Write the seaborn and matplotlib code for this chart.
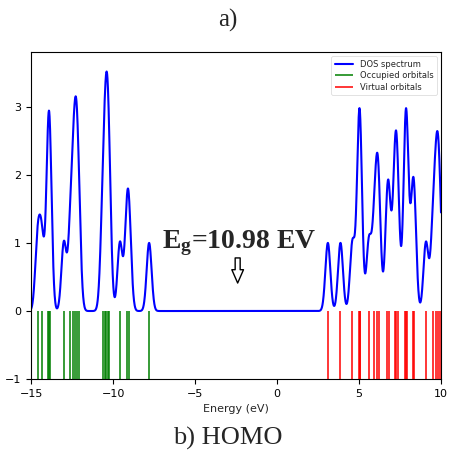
import numpy as np
import pandas as pd
import matplotlib
matplotlib.use("Agg")
import matplotlib.pyplot as plt
import seaborn as sns

# Orbital energies (eV)
occupied = [-14.6, -14.35, -13.95, -13.9, -13.87, -13.0, -12.6, -12.42,
            -12.3, -12.22, -12.1, -10.64, -10.5, -10.4, -10.32, -10.24,
            -9.58, -9.16, -9.02, -7.8]
virtual = [3.1, 3.87, 4.6, 5.0, 5.03, 5.06, 5.6, 5.93, 6.12, 6.2, 6.72,
           6.82, 7.17, 7.25, 7.36, 7.83, 7.87, 7.9, 8.28, 8.36, 9.08, 9.5,
           9.7, 9.8, 9.93]
sigma = 0.15
x_ticks = [-15, -10, -5, 0, 5, 10]
y_ticks = [-1, 0, 1, 2, 3]
gap_label = r"$\mathbf{E_g}$=10.98 EV"

sns.set_theme(style="ticks")
plt.rcParams["font.family"] = ["DejaVu Sans"]
plt.rcParams["mathtext.fontset"] = "custom"
plt.rcParams["mathtext.bf"] = "Liberation Serif:bold"
plt.rcParams["mathtext.rm"] = "Liberation Serif"

energies = np.linspace(-15, 10, 2501)
levels = np.array(occupied + virtual)
dos = np.exp(-(energies[:, None] - levels[None, :]) ** 2 / (2 * sigma ** 2)).sum(axis=1)
df = pd.DataFrame({"Energy": energies, "DOS": dos})

fig = plt.figure(figsize=(4.5, 4.53), dpi=100)
ax = fig.add_axes([0.069, 0.163, 0.911, 0.722])

sns.lineplot(data=df, x="Energy", y="DOS", color="blue", lw=1.5, ax=ax,
             label="DOS spectrum")
ax.vlines(occupied, -1, 0, color="green", lw=1.1, label="Occupied orbitals")
ax.vlines(virtual, -1, 0, color="red", lw=1.1, label="Virtual orbitals")

ax.set_xlim(-15, 10)
ax.set_ylim(-1, 3.8)
ax.set_xticks(x_ticks)
ax.set_xticklabels([("\u2212" if t < 0 else "") + str(abs(t)) for t in x_ticks], fontsize=8)
ax.set_yticks(y_ticks)
ax.set_yticklabels([("\u2212" if t < 0 else "") + str(abs(t)) for t in y_ticks], fontsize=8)
ax.tick_params(direction="out", length=3.5, width=0.8, colors="black")
for s in ax.spines.values():
    s.set_visible(True)
    s.set_color("black")
    s.set_linewidth(0.8)
ax.set_xlabel("Energy (eV)", fontsize=8)
ax.set_ylabel("")

leg = ax.legend(loc="upper right", fontsize=6, frameon=True, handlelength=2.2,
                borderpad=0.4, labelspacing=0.3)
leg.get_frame().set_linewidth(0.5)

ax.text(-2.3, 1.0, gap_label, ha="center", va="center", fontsize=20,
        fontweight="bold", family="Liberation Serif")
ax.annotate("", xy=(-2.4, 0.37), xytext=(-2.4, 0.82),
            arrowprops=dict(arrowstyle="simple,head_width=0.7,head_length=0.8,tail_width=0.3",
                            fc="white", ec="black", lw=1))

fig.text(0.507, 0.955, "a)", ha="center", va="center", fontsize=18,
         family="Liberation Serif")
fig.text(0.507, 0.033, "b) HOMO", ha="center", va="center", fontsize=19,
         family="Liberation Serif")

fig.savefig("out.png", dpi=100)
